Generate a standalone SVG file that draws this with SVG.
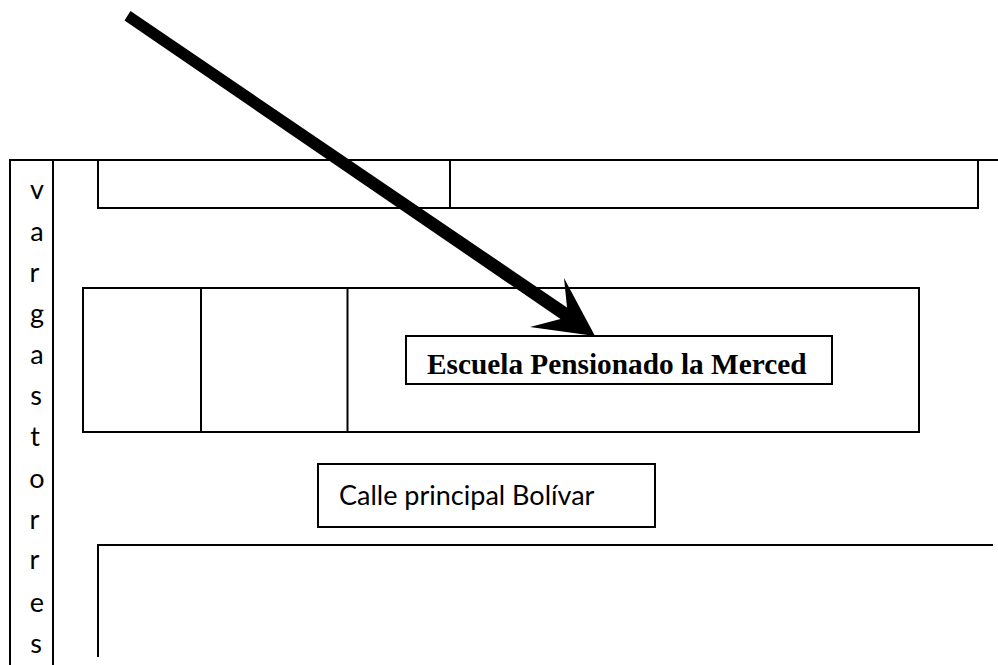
<svg xmlns="http://www.w3.org/2000/svg" width="998" height="665" viewBox="0 0 998 665">
<style>
.l{fill:none;stroke:#000;stroke-width:2}
.c{font-family:"Lato","Open Sans",sans-serif;font-size:27px;fill:#000}
.v{text-anchor:middle}
.b{font-family:"Liberation Serif",serif;font-weight:bold;font-size:29.300px;fill:#000}
</style>
<rect width="998" height="665" fill="#fff"/>
<g id="street-vargas-torres">
<path class="l" d="M10 665V160H998M53 160V665"/>
<text class="c v" x="37" y="199">v</text>
<text class="c v" x="37" y="241">a</text>
<text class="c v" x="34.500" y="282">r</text>
<text class="c v" x="37" y="323">g</text>
<text class="c v" x="37" y="364">a</text>
<text class="c v" x="36" y="405">s</text>
<text class="c v" x="35" y="446">t</text>
<text class="c v" x="37" y="488">o</text>
<text class="c v" x="34.500" y="529">r</text>
<text class="c v" x="34.500" y="569">r</text>
<text class="c v" x="37" y="612">e</text>
<text class="c v" x="36" y="653">s</text>
</g>
<g id="top-block">
<path class="l" d="M98 160V208H978V160M450 160V208"/>
</g>
<g id="school-block">
<rect class="l" x="83" y="288" width="836" height="144"/>
<path class="l" d="M201 288V432M347.500 288V432"/>
</g>
<g id="school-label">
<rect class="l" x="406" y="336" width="426" height="48" style="fill:#fff"/>
<text class="b" x="427" y="374">Escuela Pensionado la Merced</text>
</g>
<g id="street-bolivar-label">
<rect class="l" x="318" y="464" width="337" height="63"/>
<text class="c" x="339" y="505">Calle principal Bolívar</text>
</g>
<g id="lower-block">
<path class="l" d="M98 657V545H993"/>
</g>
<g id="connectors">
<polygon fill="#000" points="130.500,11 124.500,20.500 560.500,319 530,327 595,336 564,278 567,307.500"/>
</g>
</svg>
